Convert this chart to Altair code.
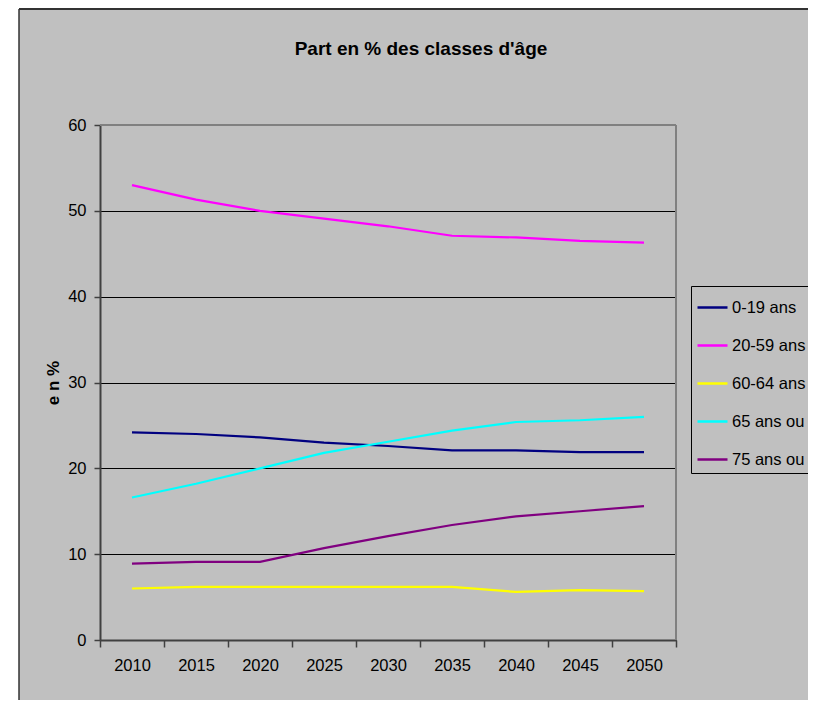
import altair as alt
import pandas as pd

years = [2010, 2015, 2020, 2025, 2030, 2035, 2040, 2045, 2050]
series_names = ["0-19 ans", "20-59 ans", "60-64 ans", "65 ans ou", "75 ans ou"]
age_0_19 = [24.2, 24.0, 23.6, 23.0, 22.6, 22.1, 22.1, 21.9, 21.9]
age_20_59 = [53.0, 51.3, 50.0, 49.1, 48.2, 47.1, 46.9, 46.5, 46.3]
age_60_64 = [6.0, 6.2, 6.2, 6.2, 6.2, 6.2, 5.6, 5.8, 5.7]
age_65_plus = [16.6, 18.2, 20.0, 21.8, 23.1, 24.4, 25.4, 25.6, 26.0]
age_75_plus = [8.9, 9.1, 9.1, 10.7, 12.1, 13.4, 14.4, 15.0, 15.6]
series_colors = ["#000080", "#ff00ff", "#ffff00", "#00ffff", "#800080"]
y_ticks = [0, 10, 20, 30, 40, 50, 60]

FONT = "Liberation Sans, Arial, Helvetica, sans-serif"
FS = 16.5
W, H = 576, 515

rows = []
for name, vals in zip(series_names,
                      [age_0_19, age_20_59, age_60_64, age_65_plus, age_75_plus]):
    for yr, v in zip(years, vals):
        rows.append({"annee": yr, "part": v, "classe": name})
df = pd.DataFrame(rows)

x_bounds = [years[0] - 2.5 + 5 * i for i in range(len(years) + 1)]

lines = alt.Chart(df).mark_line(strokeWidth=2.2).encode(
    x=alt.X("annee:Q",
            scale=alt.Scale(domain=[x_bounds[0], x_bounds[-1]], nice=False, zero=False),
            axis=alt.Axis(values=x_bounds, grid=False,
                          labelExpr="datum.value < 2050 ? toString(datum.value + 2.5) : ''",
                          labelOffset=W / 18, labelFlush=False, labelOverlap=False,
                          labelFont=FONT, labelFontSize=FS, labelColor="black",
                          labelPadding=10, tickSize=7, tickColor="#404040", tickWidth=1.5,
                          domainColor="#404040", domainWidth=2, title=None)),
    y=alt.Y("part:Q", scale=alt.Scale(domain=[0, 60], nice=False),
            axis=alt.Axis(values=y_ticks, grid=True, gridColor="black", gridWidth=1,
                          domainColor="#404040", domainWidth=2,
                          tickColor="#404040", tickSize=6, tickWidth=1.5,
                          labelFont=FONT, labelFontSize=FS, labelColor="black",
                          labelPadding=8, title="e n  %", titleFont=FONT,
                          titleFontSize=17, titleFontWeight="bold", titleColor="black",
                          titleAngle=270, titleX=-47, titleY=H / 2,
                          titleAlign="center", titleBaseline="middle")),
    color=alt.Color("classe:N",
                    scale=alt.Scale(domain=series_names, range=series_colors),
                    legend=alt.Legend(orient="none", legendX=591, legendY=161,
                                      title=None, symbolType="stroke", symbolSize=900,
                                      symbolStrokeWidth=2.5, labelFont=FONT,
                                      labelFontSize=FS, labelColor="black",
                                      labelLimit=300, labelOffset=3,
                                      strokeColor="black", fillColor="#c0c0c0",
                                      padding=5, rowPadding=13)),
)

one = pd.DataFrame({"k": [0]})
white_strip = alt.Chart(one).mark_rect(color="white", clip=False).encode(
    x=alt.value(-95), x2=alt.value(-81), y=alt.value(-117), y2=alt.value(580))
left_frame = alt.Chart(one).mark_rule(color="#333333", strokeWidth=1.5, clip=False).encode(
    x=alt.value(-81), y=alt.value(-116), y2=alt.value(580))
top_frame = alt.Chart(one).mark_rule(color="#333333", strokeWidth=2, clip=False).encode(
    y=alt.value(-116), x=alt.value(-81), x2=alt.value(720))
top_border = alt.Chart(one).mark_rule(color="#808080", strokeWidth=2).encode(
    y=alt.value(0), x=alt.value(0), x2=alt.value(W))
right_border = alt.Chart(one).mark_rule(color="#808080", strokeWidth=2).encode(
    x=alt.value(W), y=alt.value(0), y2=alt.value(H))

chart = alt.layer(white_strip, left_frame, top_frame, top_border, right_border, lines).properties(
    width=W, height=H,
    autosize=alt.AutoSizeParams(type="none"),
    padding={"left": 92, "top": 117, "right": 800 - 92 - W, "bottom": 692 - 117 - H},
    background="#c0c0c0",
    title=alt.TitleParams("Part en % des classes d'âge", font=FONT, fontSize=19,
                          fontWeight="bold", color="black", anchor="middle",
                          dx=33, dy=51, offset=0),
).configure_view(stroke=None)

chart.save("out.html", embed_options={"renderer": "svg", "actions": False})
